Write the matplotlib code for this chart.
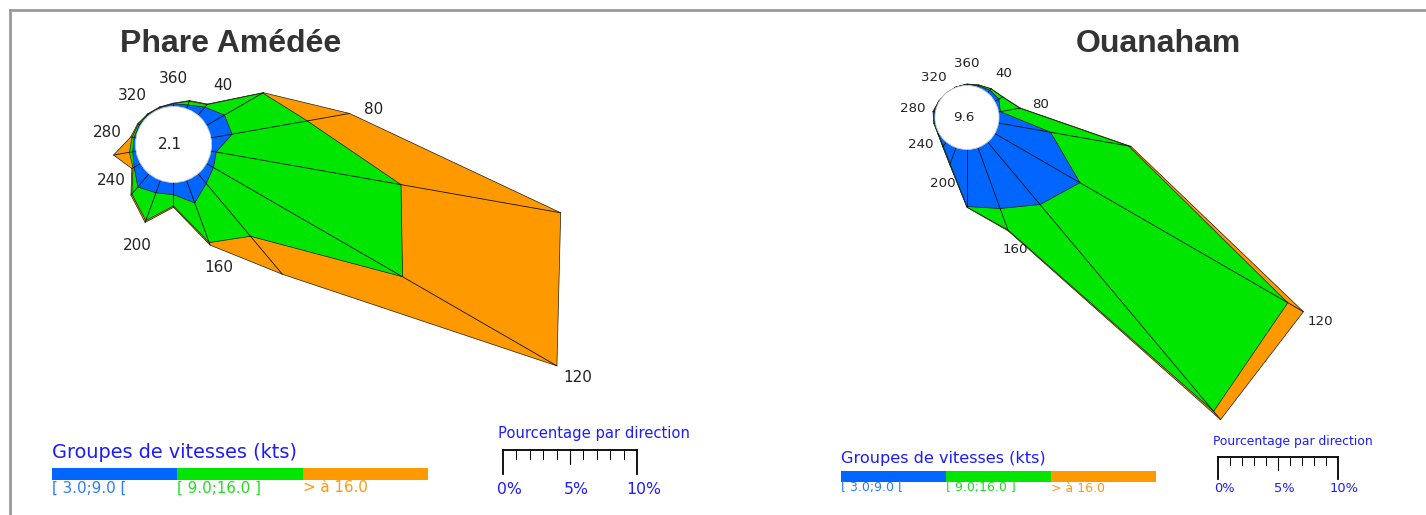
import numpy as np
import matplotlib.pyplot as plt
from matplotlib.patches import Polygon, Circle

W, H = 1426, 515

# directions (degrees, clockwise from north)
directions = np.arange(20, 361, 20)
label_dirs = [40, 80, 120, 160, 200, 240, 280, 320, 360]

speed_labels = ["[ 3.0;9.0 [", "[ 9.0;16.0 ]", "> à 16.0"]
speed_colors = ["#0066ff", "#00e600", "#ff9900"]
label_colors = ["#2a7dff", "#22dd22", "#ff9a10"]
blue_txt = "#1c1cff"

# Phare Amédée : % par direction pour chaque groupe de vitesses
amedee_calm = 2.1
amedee_low = [0.30, 0.80, 1.55, 1.60, 0.40, 0.60, 0.95, 1.80, 0.90,
              1.00, 1.30, 0.55, 0.25, 0.15, 0.10, 0.10, 0.10, 0.20]
amedee_mid = [0.30, 0.25, 3.30, 5.70, 14.0, 16.3, 5.15, 3.15, 0.85,
              2.20, 0.70, 0.10, 0.25, 0.15, 0.10, 0.02, 0.02, 0.02]
amedee_high = [0.05, 0.05, 0.05, 3.20, 12.1, 13.3, 3.70, 0.20, 0.10,
               0.15, 0.10, 0.10, 1.20, 0.10, 0.05, 0.03, 0.03, 0.03]

# Ouanaham
ouanaham_calm = 9.6
ouanaham_low = [0.15, 0.30, 0.40, 0.15, 4.40, 8.20, 6.80, 5.40, 4.75,
                1.43, 0.42, 0.08, 0.08, 0.12, 0.03, 0.00, 0.03, 0.10]
ouanaham_mid = [0.05, 0.15, 0.35, 1.65, 6.60, 20.0, 22.5, 1.90, 0.05,
                0.07, 0.05, 0.03, 0.04, 0.05, 0.02, 0.00, 0.00, 0.02]
ouanaham_high = [0.02, 0.02, 0.03, 0.05, 0.20, 1.50, 0.90, 0.10, 0.02,
                 0.02, 0.02, 0.01, 0.02, 0.04, 0.00, 0.00, 0.00, 0.00]


def draw_rose(fig, calm, groups, lay):
    cx, cy, k, r0 = lay["cx"], lay["cy"], lay["k"], lay["r0"]
    ax = fig.add_axes([0, 0, 1, 1])
    ax.set_xlim(-cx / k, (W - cx) / k)
    ax.set_ylim(-(H - cy) / k, cy / k)
    ax.axis("off")
    ax.patch.set_alpha(0)

    th = np.radians(directions)
    cum = np.cumsum(np.array(groups), axis=0)
    for level, col in zip(cum[::-1], speed_colors[::-1]):
        r = r0 + level
        pts = np.column_stack([r * np.sin(th), r * np.cos(th)])
        ax.add_patch(Polygon(pts, closed=True, fc=col, ec="#1a1a1a", lw=0.5))

    rt = r0 + cum[-1]
    for t, r in zip(th, rt):
        ax.plot([r0 * np.sin(t), r * np.sin(t)], [r0 * np.cos(t), r * np.cos(t)],
                color="#111111", lw=0.6)

    ax.add_patch(Circle((0, 0), r0, fc="white", ec="#c8c8c8", lw=0.6, zorder=5))
    ax.text(-0.3, 0, f"{calm}", ha="center", va="center", fontsize=lay["fs"],
            color="#222222", zorder=6)

    for d in label_dirs:
        i = list(directions).index(d)
        rl = rt[i] + lay["pad"]
        ax.text(rl * np.sin(th[i]), rl * np.cos(th[i]), str(d), ha="center",
                va="center", fontsize=lay["fs"], color="#222222")

    # echelle "Pourcentage par direction"
    bx = (lay["sx"] - cx) / k
    by = (cy - lay["sy"]) / k
    ax.plot([bx, bx + 10], [by, by], color="black", lw=1.3)
    for p in range(11):
        if p in (0, 10):
            ln, lw = 1.8, 1.3
        elif p == 5:
            ln, lw = 1.05, 0.8
        else:
            ln, lw = 0.65, 0.7
        ax.plot([bx + p, bx + p], [by, by - ln], color="black", lw=lw)
    for p in (0, 5, 10):
        ax.text(bx + p + 0.5, by - lay["lab_dy"] / k, f"{p}%", ha="center",
                va="center", fontsize=lay["fs_scale"], color=blue_txt)
    ax.text(bx - 0.4, by + lay["tit_dy"] / k, "Pourcentage par direction",
            ha="left", va="center", fontsize=lay["fs_stitle"], color=blue_txt)
    return ax


def draw_legend(pax, lay):
    x0, seg = lay["lx"], lay["lw"]
    pax.text(x0, lay["ly_title"], "Groupes de vitesses (kts)", ha="left",
             va="center", fontsize=lay["fs_ltitle"], color=blue_txt)
    for j, (col, lab, tcol) in enumerate(zip(speed_colors, speed_labels, label_colors)):
        pax.barh(lay["ly_bar"], seg, left=x0 + j * seg, height=lay["lh"],
                 color=col, edgecolor="none")
        pax.text(x0 + j * seg, lay["ly_lab"], lab, ha="left", va="center",
                 fontsize=lay["fs_llab"], color=tcol)


fig = plt.figure(figsize=(W / 100, H / 100), dpi=100)
pax = fig.add_axes([0, 0, 1, 1])
pax.set_xlim(0, W)
pax.set_ylim(H, 0)
pax.axis("off")

# cadre gris
pax.plot([9.5, 9.5], [H, 10], color="#9a9a9a", lw=2)
pax.plot([9.5, W], [10, 10], color="#9a9a9a", lw=2)

left = dict(cx=173.5, cy=144.5, k=13.4, r0=2.84, fs=11, pad=1.8,
            sx=503, sy=450, lab_dy=40, tit_dy=16, fs_scale=11.3, fs_stitle=10.6,
            lx=52, lw=125.3, ly_title=453, ly_bar=474, lh=12, ly_lab=488,
            fs_ltitle=13.9, fs_llab=10.9)
right = dict(cx=967, cy=117.5, k=12.0, r0=2.67, fs=9.6, pad=1.67,
             sx=1218, sy=457, lab_dy=32, tit_dy=15, fs_scale=9.4, fs_stitle=8.9,
             lx=841, lw=105, ly_title=459, ly_bar=476.5, lh=11, ly_lab=488,
             fs_ltitle=11.6, fs_llab=9.0)

draw_rose(fig, amedee_calm, [amedee_low, amedee_mid, amedee_high], left)
draw_rose(fig, ouanaham_calm, [ouanaham_low, ouanaham_mid, ouanaham_high], right)
draw_legend(pax, left)
draw_legend(pax, right)

pax.text(231, 44, "Phare Amédée", ha="center", va="center", fontsize=23,
         fontweight="bold", family="Liberation Sans", color="#333333")
pax.text(1158, 44, "Ouanaham", ha="center", va="center", fontsize=23,
         fontweight="bold", family="Liberation Sans", color="#333333")

fig.savefig("out.png", dpi=100)
